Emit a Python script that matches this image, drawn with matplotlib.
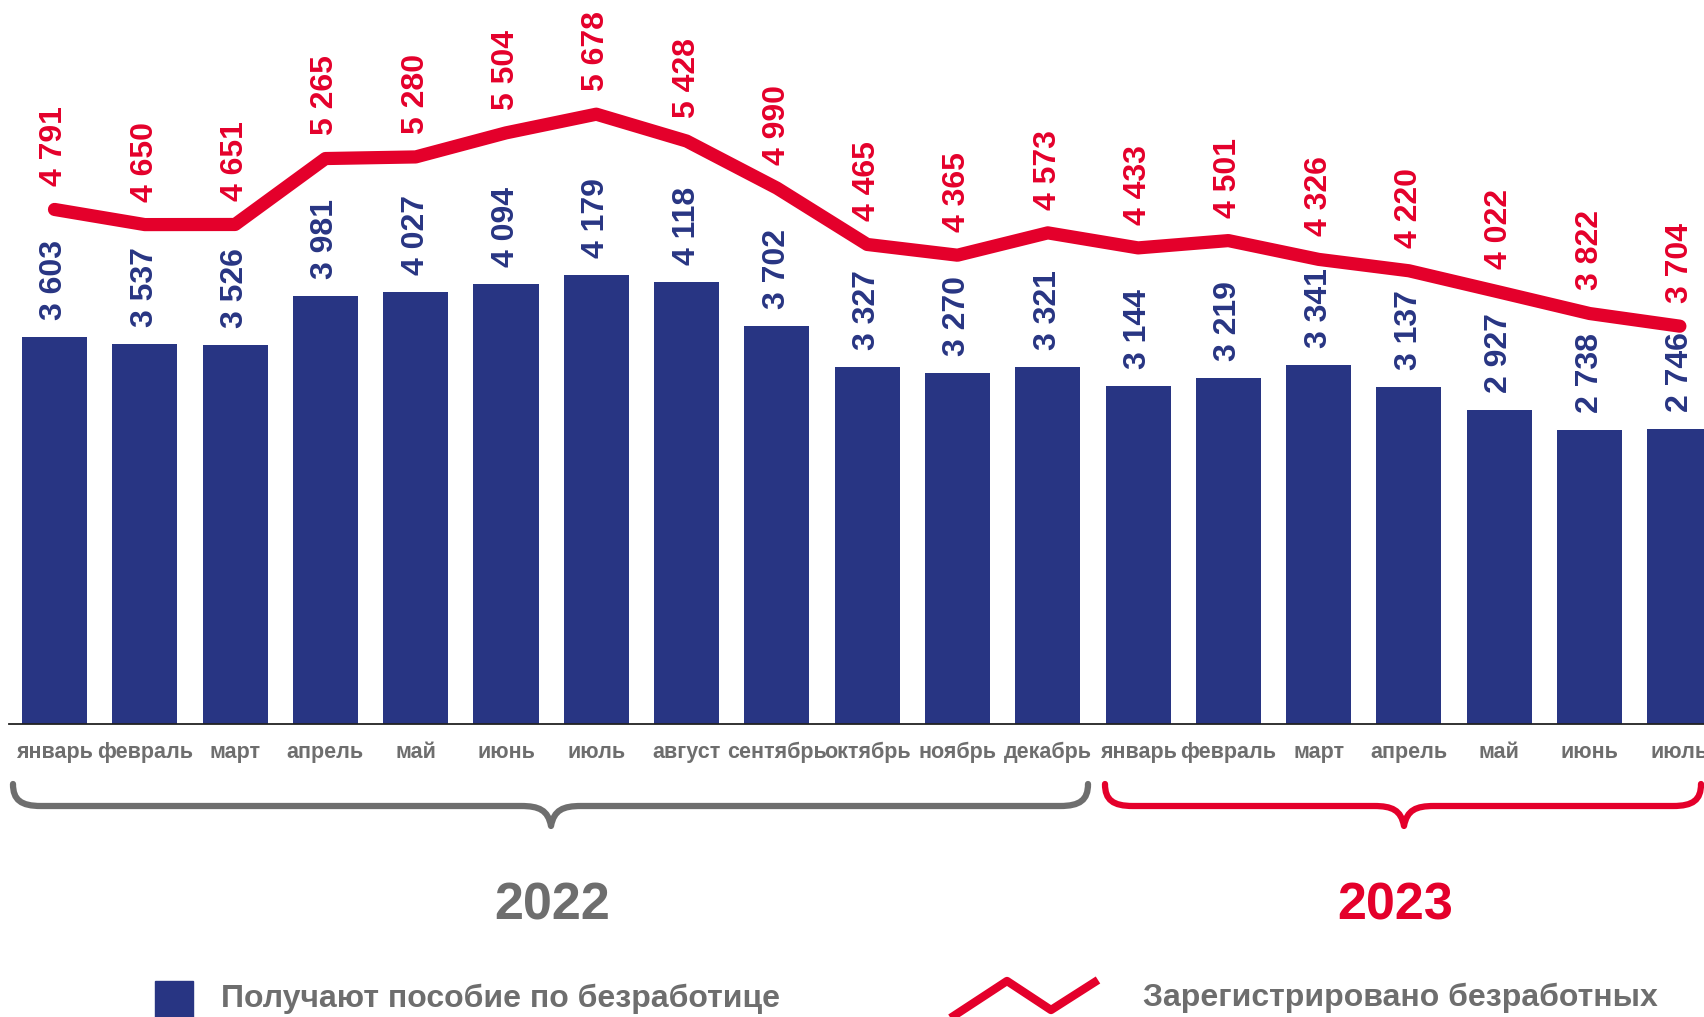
import matplotlib
matplotlib.use("Agg")
import matplotlib.pyplot as plt
from matplotlib.path import Path
from matplotlib.patches import PathPatch

plt.rcParams['font.family'] = ['Liberation Sans', 'DejaVu Sans']

months = ["январь", "февраль", "март", "апрель", "май", "июнь", "июль", "август",
          "сентябрь", "октябрь", "ноябрь", "декабрь",
          "январь", "февраль", "март", "апрель", "май", "июнь", "июль"]
benefit = [3603, 3537, 3526, 3981, 4027, 4094, 4179, 4118, 3702, 3327, 3270, 3321,
           3144, 3219, 3341, 3137, 2927, 2738, 2746]
registered = [4791, 4650, 4651, 5265, 5280, 5504, 5678, 5428, 4990, 4465, 4365, 4573,
              4433, 4501, 4326, 4220, 4022, 3822, 3704]
years = ["2022", "2023"]
legend_labels = ["Получают пособие по безработице", "Зарегистрировано безработных"]

NAVY = "#283583"
RED = "#E4002B"
GRAY = "#6E6E6E"

W, H = 1704, 1017
fig = plt.figure(figsize=(W / 100, H / 100), dpi=100)

base_px = 724
ax = fig.add_axes([0, (H - base_px) / H, 1, base_px / H])
x = list(range(len(months)))
ax.bar(x, benefit, width=0.72, color=NAVY, zorder=2)
ax.plot(x, registered, color=RED, lw=9.5, solid_capstyle='round',
        solid_joinstyle='round', zorder=3)
ax.set_xlim(-0.6035, 18.267)
ax.set_ylim(0, base_px / 0.1074)
for s in ["top", "right", "left"]:
    ax.spines[s].set_visible(False)
ax.spines["bottom"].set_bounds(-0.5, 18.267)
ax.spines["bottom"].set_linewidth(1.3)
ax.spines["bottom"].set_color("#222222")
ax.set_yticks([])
ax.set_xticks([])

def fmt(v):
    return f"{v:,}".replace(",", " ")

for i, v in enumerate(benefit):
    ax.annotate(fmt(v), xy=(i, v), xytext=(0, 12.2), textcoords="offset points",
                rotation=90, ha="center", va="bottom", color=NAVY,
                fontsize=23, fontweight="bold", annotation_clip=False)
for i, v in enumerate(registered):
    ax.annotate(fmt(v), xy=(i, v), xytext=(0, 16.6), textcoords="offset points",
                rotation=90, ha="center", va="bottom", color=RED,
                fontsize=23, fontweight="bold", annotation_clip=False)
for i, m in enumerate(months):
    ax.annotate(m, xy=(i, 0), xytext=(0, -20.2), textcoords="offset points",
                ha="center", va="center", color=GRAY, fontsize=15.5,
                fontweight="bold", annotation_clip=False)

# decoration overlay in pixel coordinates
deco = fig.add_axes([0, 0, 1, 1], facecolor="none")
deco.set_xlim(0, W)
deco.set_ylim(H, 0)
deco.axis("off")

def brace(x0, x1, xm, ytop, yflat, ytip, color):
    r = 28
    verts = [(x0, ytop),
             (x0, yflat - 6), (x0 + 8, yflat), (x0 + r, yflat),
             (xm - 30, yflat),
             (xm - 12, yflat), (xm - 3, yflat + 4), (xm, ytip),
             (xm + 3, yflat + 4), (xm + 12, yflat), (xm + 30, yflat),
             (x1 - r, yflat),
             (x1 - 8, yflat), (x1, yflat - 6), (x1, ytop)]
    codes = [Path.MOVETO,
             Path.CURVE4, Path.CURVE4, Path.CURVE4,
             Path.LINETO,
             Path.CURVE4, Path.CURVE4, Path.CURVE4,
             Path.CURVE4, Path.CURVE4, Path.CURVE4,
             Path.LINETO,
             Path.CURVE4, Path.CURVE4, Path.CURVE4]
    deco.add_patch(PathPatch(Path(verts, codes), fill=False, edgecolor=color,
                             lw=4.5, capstyle="round", joinstyle="round"))

brace(13, 1088, 551, 784, 806, 826, GRAY)
brace(1105, 1701, 1404, 784, 806, 826, RED)

deco.text(552, 920, years[0], ha="center", va="baseline", color=GRAY,
          fontsize=37.5, fontweight="bold")
deco.text(1395, 920, years[1], ha="center", va="baseline", color=RED,
          fontsize=37.5, fontweight="bold")

# legend
deco.add_patch(plt.Rectangle((155, 981), 38, 40, color=NAVY, clip_on=False))
deco.text(221, 1007, legend_labels[0], ha="left", va="baseline", color=GRAY,
          fontsize=23, fontweight="bold")
deco.plot([949, 1007, 1051, 1098], [1019, 981, 1010, 980], color=RED, lw=6,
          solid_capstyle="butt")
deco.text(1143, 1006, legend_labels[1], ha="left", va="baseline", color=GRAY,
          fontsize=23, fontweight="bold")

fig.savefig("out.png", dpi=100)
